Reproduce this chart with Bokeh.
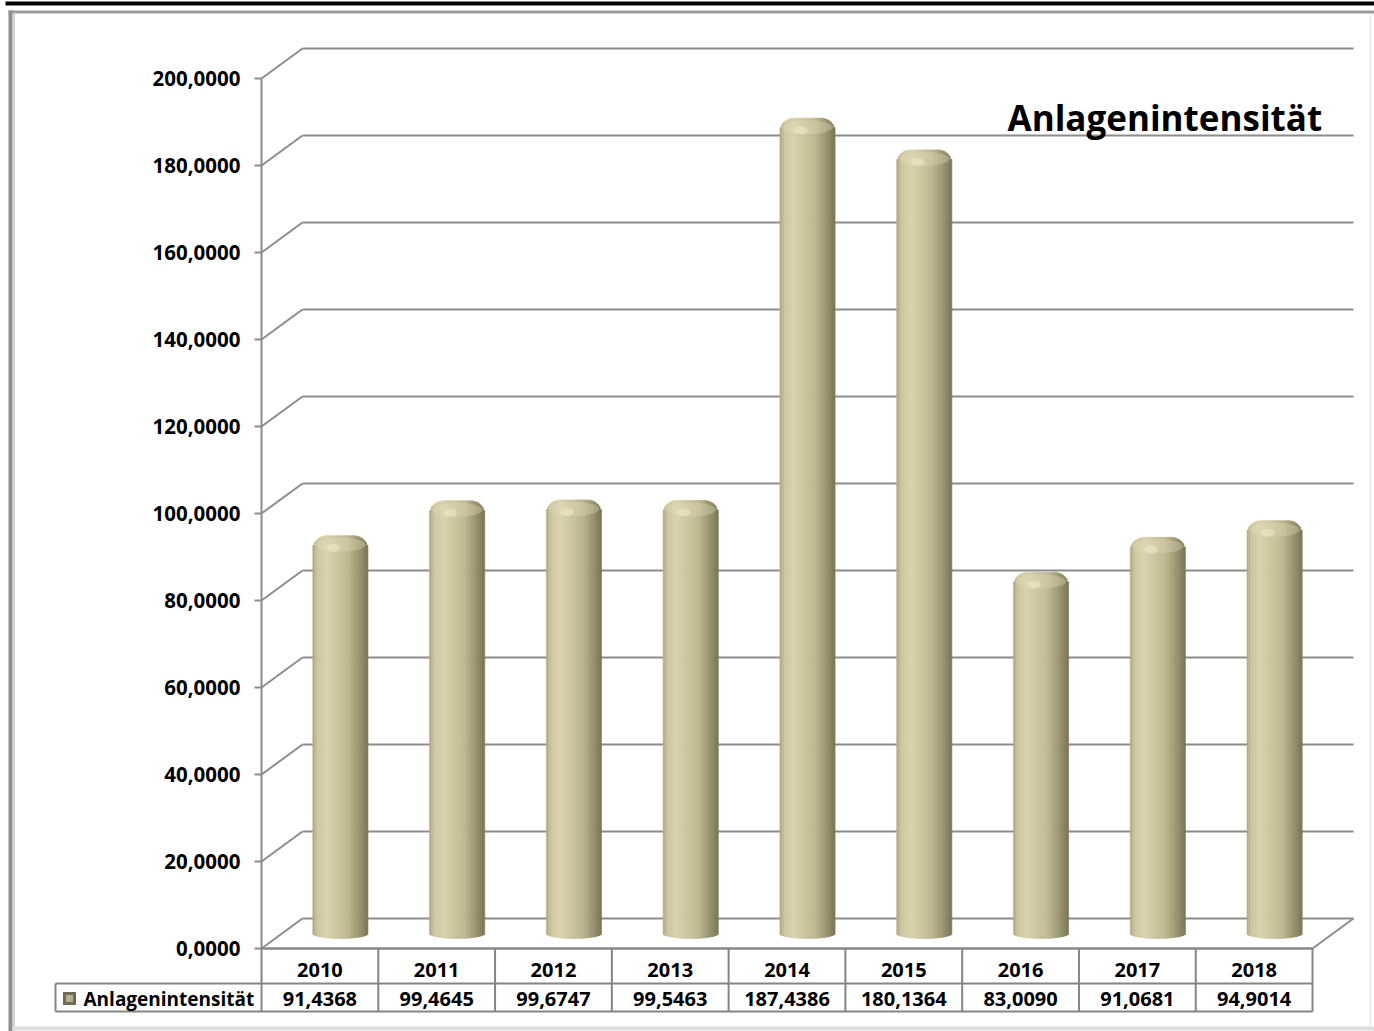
import numpy as np
from bokeh.plotting import figure
from bokeh.models import Range1d, ColumnDataSource
from bokeh.embed import file_html
from bokeh.resources import INLINE
from bokeh.core.properties import value

# ---------------- data ----------------
years = ["2010", "2011", "2012", "2013", "2014", "2015", "2016", "2017", "2018"]
values = [91.4368, 99.4645, 99.6747, 99.5463, 187.4386, 180.1364, 83.0090, 91.0681, 94.9014]
value_labels = ["91,4368", "99,4645", "99,6747", "99,5463", "187,4386",
                "180,1364", "83,0090", "91,0681", "94,9014"]
y_ticks = [0, 20, 40, 60, 80, 100, 120, 140, 160, 180, 200]
y_tick_labels = ["0,0000", "20,0000", "40,0000", "60,0000", "80,0000", "100,0000",
                 "120,0000", "140,0000", "160,0000", "180,0000", "200,0000"]
series_name = "Anlagenintensität"
title_text = "Anlagenintensität"

# ---------------- layout / style ----------------
W, H = 1374, 1031
PX_CAT = 116.78          # pixels per category
PX_UNIT = 4.35           # pixels per value unit
AX_PX, AX_PY = 261, 948  # pixel position of the front axis origin

def X(px):
    return (px - AX_PX) / PX_CAT

def Y(py):
    return (AX_PY - py) / PX_UNIT

DX = 41 / PX_CAT         # 3D depth offset
DY = 30 / PX_UNIT
N = len(years)
FONT = value("Open Sans")
GRID = "#8c8c8c"
TABLE = "#858585"

p = figure(width=W, height=H, x_range=Range1d(X(0), X(W)), y_range=Range1d(Y(H), Y(0)),
           output_backend="svg", toolbar_location=None, min_border=0,
           x_axis_location=None, y_axis_location=None)
p.grid.visible = False
p.outline_line_color = None
p.background_fill_color = "white"
p.border_fill_color = "white"

# ---------------- walls / gridlines ----------------
t = np.array(y_ticks, dtype=float)
p.segment(x0=[0] * len(t), y0=t, x1=[DX] * len(t), y1=t + DY, line_color=GRID, line_width=2)
p.segment(x0=[DX] * len(t), y0=t + DY, x1=[N + DX] * len(t), y1=t + DY, line_color=GRID, line_width=2)
p.segment(x0=[0], y0=[0], x1=[N], y1=[0], line_color=GRID, line_width=2)
p.segment(x0=[N], y0=[0], x1=[N + DX], y1=[DY], line_color=GRID, line_width=2)
p.segment(x0=[0], y0=[0], x1=[0], y1=[y_ticks[-1]], line_color=GRID, line_width=2)
p.segment(x0=[X(254)] * len(t), y0=t, x1=[0] * len(t), y1=t, line_color=GRID, line_width=2)

p.text(x=[X(240)] * len(t), y=t, text=y_tick_labels, text_align="right", text_baseline="middle",
       text_font=FONT, text_font_style="bold", text_font_size="20.5px", text_color="black")

# ---------------- cylinders ----------------
NS = 36
half_w = 27.5 / PX_CAT
r_px = 14.0
hb = 5.0 / PX_UNIT
stops_u = [-1.0, -0.82, -0.5, -0.15, 0.3, 0.6, 0.85, 1.0]
stops_c = ["#aea680", "#cec79f", "#d9d3ae", "#cec79f", "#beb790", "#a39d78", "#8a8561", "#7a7555"]

def hex2rgb(h):
    return np.array([int(h[i:i + 2], 16) for i in (1, 3, 5)], dtype=float)

def col_at(u):
    rgbs = np.array([hex2rgb(c) for c in stops_c])
    r = [np.interp(u, stops_u, rgbs[:, k]) for k in range(3)]
    return "#%02x%02x%02x" % tuple(int(round(v)) for v in r)

xs, tops, bots, cols = [], [], [], []
sw = 2 * half_w / NS
for i, v in enumerate(values):
    xc = i + 0.5 + DX / 2
    base = DY / 2
    for k in range(NS):
        u = -1 + (2 * k + 1) / NS
        d_px = abs(u) * 27.5 - (27.5 - r_px)
        drop_px = 0.0
        if d_px > 0:
            drop_px = r_px - np.sqrt(max(r_px ** 2 - d_px ** 2, 0))
        xs.append(xc + u * half_w)
        tops.append(base + v - drop_px / PX_UNIT)
        bots.append(base - hb * np.sqrt(max(1 - u * u, 0)))
        cols.append(col_at(u))

src = ColumnDataSource(dict(x=xs, top=tops, bottom=bots, color=cols))
p.vbar(x="x", top="top", bottom="bottom", width=sw * 1.1, fill_color="color",
       line_color="color", line_width=0.6, source=src)

# top cap shading and highlight
cap_x = [i + 0.5 + DX / 2 for i in range(N)]
cap_y = [DY / 2 + v - 9 / PX_UNIT for v in values]
p.ellipse(x=cap_x, y=cap_y, width=2 * half_w * 0.92, height=14 / PX_UNIT,
          fill_color="#e2dcbb", fill_alpha=0.35, line_color=None)
hl_x = [c - half_w * 0.25 for c in cap_x]
hl_y = [DY / 2 + v - 12 / PX_UNIT for v in values]
p.ellipse(x=hl_x, y=hl_y, width=half_w * 0.5, height=8 / PX_UNIT,
          fill_color="#ece7cc", fill_alpha=0.6, line_color=None)

# ---------------- title ----------------
p.text(x=[X(1007)], y=[Y(117)], text=[title_text], text_align="left", text_baseline="alphabetic",
       text_font=FONT, text_font_style="bold", text_font_size="35px", text_color="black")

# ---------------- data table ----------------
row1 = Y(983)
row2 = Y(1011)
leg_left = X(55)
p.segment(x0=[0, leg_left, leg_left], y0=[0, row1, row2], x1=[N, N, N], y1=[0, row1, row2],
          line_color=TABLE, line_width=2)
p.segment(x0=list(range(N + 1)), y0=[0] * (N + 1), x1=list(range(N + 1)), y1=[row2] * (N + 1),
          line_color=TABLE, line_width=2)
p.segment(x0=[leg_left], y0=[row1], x1=[leg_left], y1=[row2], line_color=TABLE, line_width=2)

cx = [i + 0.5 for i in range(N)]
p.text(x=cx, y=[Y(969)] * N, text=years, text_align="center", text_baseline="middle",
       text_font=FONT, text_font_style="bold", text_font_size="20px", text_color="black")
p.text(x=cx, y=[Y(998)] * N, text=value_labels, text_align="center", text_baseline="middle",
       text_font=FONT, text_font_style="bold", text_font_size="20px", text_color="black")

# legend key + name
p.rect(x=[X(69)], y=[Y(998)], width=13, height=13, width_units="screen", height_units="screen",
       fill_color="#6f6b55", line_color=None)
p.rect(x=[X(69)], y=[Y(998)], width=7, height=7, width_units="screen", height_units="screen",
       fill_color="#b5af8b", line_color=None)
p.text(x=[X(83)], y=[Y(998)], text=[series_name], text_align="left", text_baseline="middle",
       text_font=FONT, text_font_style="bold", text_font_size="19px", text_color="black")

# ---------------- frame decorations ----------------
p.segment(x0=[X(5)], y0=[Y(3)], x1=[X(W)], y1=[Y(3)], line_color="black", line_width=4)
p.segment(x0=[X(8)], y0=[Y(11.5)], x1=[X(W)], y1=[Y(11.5)], line_color="#9a9a9a", line_width=3)
p.segment(x0=[X(10)], y0=[Y(10)], x1=[X(10)], y1=[Y(H)], line_color="#8e8e8e", line_width=4)
p.segment(x0=[X(13.5)], y0=[Y(13)], x1=[X(13.5)], y1=[Y(H)], line_color="#d4d4d4", line_width=2)
p.segment(x0=[X(12)], y0=[Y(1028)], x1=[X(W)], y1=[Y(1028)], line_color="#dedede", line_width=4)
p.segment(x0=[X(1370)], y0=[Y(14)], x1=[X(1370)], y1=[Y(1026)], line_color="#ececec", line_width=2)

open("out.html", "w").write(file_html(p, INLINE))
